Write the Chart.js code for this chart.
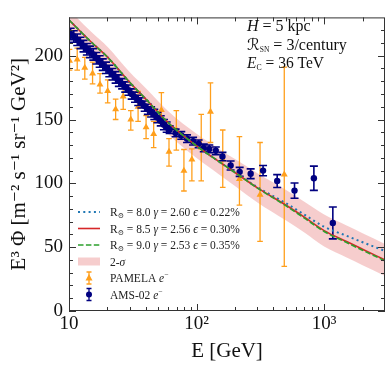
<!DOCTYPE html>
<html>
<head>
<meta charset="utf-8">
<script src="https://cdn.jsdelivr.net/npm/chart.js@4.4.1/dist/chart.umd.min.js"></script>
<style>
  html, body { margin: 0; padding: 0; background: #fff; }
  #wrap { width: 390px; height: 369px; }
</style>
</head>
<body>
<div id="wrap"><canvas id="flux-chart" width="390" height="369"></canvas></div>
<script>
// Axis ticks
const X_TICKS = [10, 100, 1000];
const X_TICK_LABELS = ['10', '10²', '10³'];
const X_MINOR = [20, 30, 40, 50, 60, 70, 80, 90, 200, 300, 400, 500, 600, 700, 800, 900, 2000];
const Y_TICKS = [0, 50, 100, 150, 200];
const Y_MINOR = [10, 20, 30, 40, 60, 70, 80, 90, 110, 120, 130, 140, 160, 170, 180, 190, 210, 220];

// AMS-02 electrons (E in GeV, E^3 flux, symmetric error)
const AMS_E = [10.3, 10.9, 11.6, 12.3, 13.0, 13.8, 14.6, 15.5, 16.4, 17.4, 18.4, 19.5, 20.7, 21.9, 23.2, 24.6,
  26.1, 27.6, 29.3, 31.0, 32.9, 34.9, 36.9, 39.2, 41.5, 44.0, 46.6, 49.4, 52.4, 55.5, 58.3,
  61.5, 68.5, 75.9, 84.2, 93.9, 103.8, 113.9, 125.8, 141.5, 159.6, 184.9, 217.7, 265.5, 332, 428.5, 586, 831, 1170];
const AMS_FLUX = [217, 215, 212.5, 210, 207.5, 205, 203, 201, 198, 195.5, 193, 190.5, 188, 185.5, 183, 180.5,
  178, 175.5, 173, 170, 167.5, 165, 163, 160.5, 158, 156, 154, 151.5, 149, 146, 144,
  142, 139.5, 137.5, 135, 133, 131, 127.7, 127, 125.5, 121, 114, 109, 107.5, 110, 101.8, 94.3, 104, 69];
const AMS_ERR = [4.5, 4.5, 4.5, 4.5, 4.5, 4.5, 4.5, 4.5, 4.5, 4.5, 4.5, 4.5, 4.5, 4.5, 4.5, 4.5,
  4, 4, 4, 4, 4, 4, 4, 4, 4, 4, 4, 4, 4, 4, 4,
  3, 3, 3, 3, 3, 3, 3, 3, 3, 3.3, 3.5, 3.5, 3.8, 4, 5, 6, 9.5, 12.5];

// PAMELA electrons (E, E^3 flux, lower / upper error bar ends)
const PAM_E = [10.1, 11.6, 13.3, 15.3, 17.5, 20.1, 23.2, 26.6, 30.5, 34.8, 40.2, 46.1, 53.0, 60.8,
  69.4, 79.6, 91.9, 108.8, 128.6, 160.4, 216.8, 314.5, 487];
const PAM_FLUX = [196, 197, 190.5, 186, 177.4, 172.4, 158, 168, 150, 160, 144, 138.6, 157.4, 124.8,
  142, 109.8, 118.6, 128, 156, 118.6, 103.5, 91, 107];
const PAM_LO = [188.7, 188.7, 181.7, 178, 170.7, 163, 150, 158, 141.7, 148.6, 135, 128, 147, 113.5,
  126, 94, 102, 102, 132, 96.8, 83, 54.6, 35];
const PAM_HI = [205, 206, 198.7, 195, 186, 181, 166, 176, 157, 172, 153, 148.6, 171, 135,
  157, 126.5, 127, 154, 178.7, 141.8, 136.6, 132, 191];

// Model curves
const MODEL_E = [10, 15, 20, 30, 40, 60, 100, 150, 200, 300, 500, 700, 1000, 1500, 2000, 3000];
const MODEL_R80 = [228, 210.5, 199, 179, 166, 147.5, 129.3, 117, 108.5, 97, 84.5, 75.5, 66, 58.9, 53.9, 47];
const MODEL_R85 = [228, 210.5, 199, 179, 166, 147.5, 129.3, 117, 108.5, 96.5, 83, 73.5, 63, 54.4, 48.4, 40];
const MODEL_R90 = [228, 210.5, 199, 179, 166, 147.5, 129.3, 117, 108.5, 96.3, 82.5, 72.8, 62.3, 53.7, 47.6, 39.3];
const BAND_HI = [236, 218.5, 207, 187, 174.5, 156.5, 138.8, 127, 119, 108, 95, 85.5, 75.5, 66.9, 60.9, 52.5];
const BAND_LO = [220, 202.5, 191, 171, 157.5, 138.5, 119.8, 107, 98, 85, 71, 61.5, 50.5, 41.9, 35.9, 27.5];

const SERIF = '"Liberation Serif", "DejaVu Serif", serif';
const ORANGE = '#ff9f1c';
const NAVY = '#000080';
const PINK = 'rgba(225, 90, 90, 0.3)';
const BLUE = '#1f77b4';
const RED = '#d62728';
const GREEN = '#2ca02c';

const pts = (xs, ys) => xs.map((x, i) => ({ x: x, y: ys[i] }));

// draw a row of text pieces with different fonts / offsets,
// squeezed horizontally if it is wider than maxW
function drawRuns(ctx, x, y, runs, maxW) {
  let w = 0;
  for (const r of runs) { ctx.font = r.f; w += ctx.measureText(r.t).width; }
  const sx = maxW && w > maxW ? maxW / w : 1;
  ctx.save();
  ctx.translate(x, y);
  ctx.scale(sx, 1);
  let cx = 0;
  for (const r of runs) {
    ctx.font = r.f;
    ctx.fillText(r.t, cx, r.dy || 0);
    cx += ctx.measureText(r.t).width;
  }
  ctx.restore();
}

// vertical error bars under the markers
const errorBars = {
  id: 'errorBars',
  beforeDatasetDraw(chart, args) {
    const ds = chart.data.datasets[args.index];
    if (!ds.errLo) return;
    const { ctx, chartArea: a } = chart;
    const xs = chart.scales.x, ys = chart.scales.y;
    ctx.save();
    ctx.beginPath();
    ctx.rect(a.left, a.top, a.right - a.left, a.bottom - a.top);
    ctx.clip();
    ctx.strokeStyle = ds.backgroundColor;
    ctx.lineWidth = ds.barWidth;
    const cap = ds.capHalf;
    ds.data.forEach((p, i) => {
      const px = xs.getPixelForValue(p.x);
      const y1 = ys.getPixelForValue(ds.errLo[i]);
      const y2 = ys.getPixelForValue(ds.errHi[i]);
      ctx.beginPath();
      ctx.moveTo(px, y1); ctx.lineTo(px, y2);
      ctx.moveTo(px - cap, y1); ctx.lineTo(px + cap, y1);
      ctx.moveTo(px - cap, y2); ctx.lineTo(px + cap, y2);
      ctx.stroke();
    });
    ctx.restore();
  }
};

// frame, inward ticks on all sides, legend and annotation
const decorations = {
  id: 'decorations',
  afterDraw(chart) {
    const { ctx, chartArea: a } = chart;
    const xs = chart.scales.x, ys = chart.scales.y;
    ctx.save();
    ctx.strokeStyle = '#333';
    ctx.lineWidth = 1;
    ctx.strokeRect(a.left + 0.5, a.top + 0.5, a.right - a.left - 1, a.bottom - a.top - 1);

    const vTick = (v, len) => {
      const p = Math.round(xs.getPixelForValue(v)) + 0.5;
      ctx.beginPath();
      ctx.moveTo(p, a.bottom); ctx.lineTo(p, a.bottom - len);
      ctx.moveTo(p, a.top); ctx.lineTo(p, a.top + len);
      ctx.stroke();
    };
    const hTick = (v, len) => {
      const p = Math.round(ys.getPixelForValue(v)) + 0.5;
      ctx.beginPath();
      ctx.moveTo(a.left, p); ctx.lineTo(a.left + len, p);
      ctx.moveTo(a.right, p); ctx.lineTo(a.right - len, p);
      ctx.stroke();
    };
    X_TICKS.forEach(v => vTick(v, 7));
    X_MINOR.forEach(v => vTick(v, 4));
    Y_TICKS.forEach(v => hTick(v, 7));
    Y_MINOR.forEach(v => hTick(v, 4));

    // annotation, top right
    ctx.fillStyle = '#111';
    ctx.textBaseline = 'alphabetic';
    const ax = 247;
    drawRuns(ctx, ax, 31, [
      { t: 'H', f: 'italic 16px ' + SERIF },
      { t: ' = 5 kpc', f: '16px ' + SERIF }
    ], 66);
    drawRuns(ctx, ax, 49.5, [
      { t: 'ℛ', f: '16px "DejaVu Sans", ' + SERIF },
      { t: 'SN', f: '7.5px ' + SERIF, dy: 2 },
      { t: ' = 3/century', f: '16px ' + SERIF }
    ], 107);
    drawRuns(ctx, ax, 68, [
      { t: 'E', f: 'italic 16px ' + SERIF },
      { t: 'C', f: '8px ' + SERIF, dy: 2 },
      { t: ' = 36 TeV', f: '16px ' + SERIF }
    ], 77);

    // legend
    const lx0 = 78, lx1 = 100, tx = 110, row0 = 212, step = 16.5;
    const f = '11.5px ' + SERIF, fi = 'italic 11.5px ' + SERIF, fs = '7.5px ' + SERIF;
    const modelRow = (i, color, dash, width, R, g, e) => {
      const yy = row0 + i * step;
      ctx.save();
      ctx.strokeStyle = color; ctx.lineWidth = width; ctx.setLineDash(dash);
      ctx.beginPath(); ctx.moveTo(lx0, yy); ctx.lineTo(lx1, yy); ctx.stroke();
      ctx.restore();
      ctx.fillStyle = '#222';
      drawRuns(ctx, tx, yy + 4, [
        { t: 'R', f: f }, { t: '⊙', f: fs, dy: 2 }, { t: ' = ' + R + ' ', f: f },
        { t: 'γ', f: fi }, { t: ' = ' + g + ' ', f: f },
        { t: 'ϵ', f: fi }, { t: ' = ' + e, f: f }
      ], 130);
    };
    modelRow(0, BLUE, [2, 3.3], 2, '8.0', '2.60', '0.22%');
    modelRow(1, RED, [], 1.6, '8.5', '2.56', '0.30%');
    modelRow(2, GREEN, [5.5, 2.4], 1.6, '9.0', '2.53', '0.35%');

    const yb = row0 + 3 * step;
    ctx.fillStyle = PINK;
    ctx.fillRect(lx0, yb - 4, lx1 - lx0, 8);
    ctx.fillStyle = '#222';
    drawRuns(ctx, tx, yb + 4, [{ t: '2-', f: f }, { t: 'σ', f: fi }]);

    const errRow = (i, color, style, label) => {
      const y0 = row0 + i * step, xm = (lx0 + lx1) / 2;
      ctx.strokeStyle = color; ctx.fillStyle = color; ctx.lineWidth = 1.3;
      ctx.beginPath();
      ctx.moveTo(xm, y0 - 6); ctx.lineTo(xm, y0 + 6);
      ctx.moveTo(xm - 2.5, y0 - 6); ctx.lineTo(xm + 2.5, y0 - 6);
      ctx.moveTo(xm - 2.5, y0 + 6); ctx.lineTo(xm + 2.5, y0 + 6);
      ctx.stroke();
      ctx.beginPath();
      if (style === 'triangle') {
        ctx.moveTo(xm, y0 - 4); ctx.lineTo(xm + 3.5, y0 + 2.5); ctx.lineTo(xm - 3.5, y0 + 2.5);
        ctx.closePath();
      } else {
        ctx.arc(xm, y0, 3, 0, Math.PI * 2);
      }
      ctx.fill();
      ctx.fillStyle = '#222';
      drawRuns(ctx, tx, y0 + 4, [
        { t: label + ' ', f: f }, { t: 'e', f: fi }, { t: '−', f: fs, dy: -5 }
      ]);
    };
    errRow(4, ORANGE, 'triangle', 'PAMELA');
    errRow(5, NAVY, 'circle', 'AMS-02');
    ctx.restore();
  }
};

const amsLo = AMS_FLUX.map((v, i) => v - AMS_ERR[i]);
const amsHi = AMS_FLUX.map((v, i) => v + AMS_ERR[i]);

new Chart(document.getElementById('flux-chart'), {
  type: 'scatter',
  data: {
    datasets: [
      { label: 'R9.0', data: pts(MODEL_E, MODEL_R90), showLine: true, borderColor: GREEN, borderWidth: 1.6,
        borderDash: [5.5, 2.4], pointRadius: 0, cubicInterpolationMode: 'monotone', fill: false },
      { label: 'R8.5', data: pts(MODEL_E, MODEL_R85), showLine: true, borderColor: RED, borderWidth: 1.6,
        pointRadius: 0, cubicInterpolationMode: 'monotone', fill: false },
      { label: 'R8.0', data: pts(MODEL_E, MODEL_R80), showLine: true, borderColor: BLUE, borderWidth: 2,
        borderDash: [2, 3.3], pointRadius: 0, cubicInterpolationMode: 'monotone', fill: false },
      { label: 'AMS-02', data: pts(AMS_E, AMS_FLUX), pointStyle: 'circle', pointRadius: 3.2,
        backgroundColor: NAVY, borderWidth: 0, errLo: amsLo, errHi: amsHi, capHalf: 4, barWidth: 1.6 },
      { label: 'PAMELA', data: pts(PAM_E, PAM_FLUX), pointStyle: 'triangle', pointRadius: 4,
        backgroundColor: ORANGE, borderWidth: 0, errLo: PAM_LO, errHi: PAM_HI, capHalf: 2.8, barWidth: 1.3 },
      { label: 'band-hi', data: pts(MODEL_E, BAND_HI), showLine: true, borderWidth: 0, borderColor: 'rgba(0,0,0,0)',
        pointRadius: 0, backgroundColor: PINK, fill: '+1', cubicInterpolationMode: 'monotone' },
      { label: 'band-lo', data: pts(MODEL_E, BAND_LO), showLine: true, borderWidth: 0, borderColor: 'rgba(0,0,0,0)',
        pointRadius: 0, fill: false, cubicInterpolationMode: 'monotone' }
    ]
  },
  options: {
    responsive: false,
    animation: false,
    events: [],
    layout: { padding: { top: 4, right: 5, left: 0, bottom: 0 } },
    plugins: { legend: { display: false }, tooltip: { enabled: false } },
    scales: {
      x: {
        type: 'logarithmic', min: 10, max: 3000,
        afterBuildTicks: s => { s.ticks = X_TICKS.map(v => ({ value: v })); },
        afterFit: s => { s.height = 58; },
        ticks: {
          callback: v => X_TICK_LABELS[X_TICKS.indexOf(v)],
          font: { family: SERIF, size: 19 }, color: '#111', maxRotation: 0, padding: 2, autoSkip: false
        },
        grid: { display: false, drawTicks: false },
        border: { display: false },
        title: { display: true, text: 'E [GeV]', font: { family: SERIF, size: 21 }, color: '#111',
          padding: { top: 5, bottom: 5 } }
      },
      y: {
        min: 0, max: 230,
        afterBuildTicks: s => { s.ticks = Y_TICKS.map(v => ({ value: v })); },
        afterFit: s => { s.width = 69; },
        ticks: { font: { family: SERIF, size: 19 }, color: '#111', padding: 6 },
        grid: { display: false, drawTicks: false },
        border: { display: false },
        title: { display: true, text: 'E³ Φ [m⁻² s⁻¹ sr⁻¹ GeV²]', font: { family: SERIF, size: 21 }, color: '#111',
          padding: { top: 7, bottom: 7 } }
      }
    }
  },
  plugins: [errorBars, decorations]
});
</script>
</body>
</html>
